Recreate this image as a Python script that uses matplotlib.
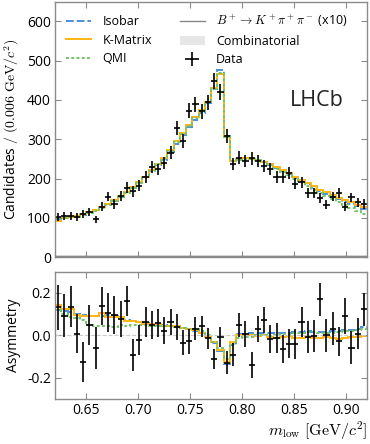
import numpy as np
import matplotlib
matplotlib.use("Agg")
import matplotlib.pyplot as plt
from matplotlib.patches import Patch
from matplotlib.lines import Line2D

plt.rcParams['font.family'] = ['Open Sans', 'DejaVu Sans']
plt.rcParams['mathtext.fontset'] = 'cm'

# binning: 50 bins of 0.006 GeV/c^2 from 0.62 to 0.92
x_lo, x_hi, n_bins = 0.62, 0.92, 50
edges = np.linspace(x_lo, x_hi, n_bins + 1)
centers = 0.5 * (edges[:-1] + edges[1:])

# --- top panel: candidates per bin ---
data_counts = [103, 104, 104, 103, 109, 115, 96, 128, 154, 135,
               156, 177, 167, 182, 204, 230, 223, 240, 266, 328,
               296, 373, 389, 371, 394, 448, 421, 309, 238, 253,
               244, 251, 244, 233, 225, 204, 204, 214, 187, 190,
               163, 164, 150, 133, 154, 163, 128, 152, 139, 135]

isobar = [95, 99, 102, 104, 108, 114, 120, 127, 135, 144,
          154, 165, 177, 190, 203, 219, 235, 248, 268, 289,
          310, 330, 350, 368, 392, 428, 476, 307, 245, 249,
          251, 250, 247, 242, 235, 228, 220, 211, 202, 193,
          185, 177, 169, 161, 154, 148, 141, 135, 129, 123]

kmatrix = [93, 100, 103, 104, 109, 115, 121, 128, 136, 145,
           155, 166, 179, 192, 205, 222, 238, 251, 272, 295,
           317, 337, 356, 375, 396, 430, 465, 305, 244, 249,
           251, 250, 247, 242, 236, 229, 221, 213, 205, 196,
           188, 180, 172, 165, 158, 151, 145, 139, 133, 127]

qmi = [97, 99, 101, 103, 107, 112, 118, 125, 133, 142,
       152, 163, 176, 189, 203, 220, 237, 250, 270, 292,
       314, 334, 353, 372, 394, 429, 468, 306, 244, 248,
       250, 250, 247, 241, 234, 225, 217, 208, 199, 190,
       181, 172, 163, 155, 147, 140, 133, 126, 118, 110]

combinatorial = [5] * n_bins
bkpipi_x10 = [3] * n_bins

# --- bottom panel: asymmetry ---
asym_data = [0.132, 0.093, 0.136, 0.008, -0.124, 0.050, -0.059, 0.140, 0.108, 0.096,
             0.078, 0.163, -0.093, -0.023, 0.062, 0.050, 0.059, 0.023, 0.062, 0.039,
             -0.034, -0.028, 0.031, 0.043, -0.013, -0.112, -0.008, -0.129, -0.090, 0.050,
             0.008, -0.140, 0.031, 0.074, -0.019, -0.012, -0.065, -0.038, -0.039, 0.065,
             -0.008, -0.003, 0.171, 0.000, 0.031, -0.028, 0.093, -0.058, 0.008, 0.124]

asym_err = [0.105, 0.100, 0.097, 0.093, 0.093, 0.093, 0.097, 0.090, 0.090, 0.090,
            0.085, 0.070, 0.074, 0.070, 0.070, 0.066, 0.067, 0.062, 0.062, 0.062,
            0.058, 0.058, 0.054, 0.050, 0.050, 0.047, 0.047, 0.054, 0.054, 0.058,
            0.062, 0.062, 0.062, 0.062, 0.066, 0.070, 0.066, 0.066, 0.070, 0.070,
            0.074, 0.074, 0.078, 0.078, 0.078, 0.070, 0.085, 0.078, 0.074, 0.078]

asym_isobar = [0.120, 0.115, 0.110, 0.100, 0.095, 0.090, 0.090, 0.090, 0.095, 0.090,
               0.080, 0.075, 0.070, 0.065, 0.060, 0.055, 0.050, 0.047, 0.045, 0.040,
               0.035, 0.030, 0.022, 0.012, -0.005, -0.035, -0.075, -0.135, -0.045, 0.005,
               0.008, 0.010, 0.012, 0.012, 0.012, 0.010, 0.012, 0.012, 0.015, 0.018,
               0.020, 0.018, 0.015, 0.018, 0.020, 0.022, 0.025, 0.025, 0.030, 0.040]

asym_kmatrix = [0.143, 0.124, 0.124, 0.096, 0.093, 0.093, 0.093, 0.108, 0.085, 0.085,
                0.085, 0.070, 0.070, 0.065, 0.054, 0.054, 0.054, 0.045, 0.043, 0.043,
                0.035, 0.031, 0.025, 0.010, -0.008, -0.031, -0.070, -0.124, -0.030, 0.003,
                0.000, 0.002, -0.002, 0.000, -0.005, -0.010, -0.005, -0.002, -0.010, -0.010,
                -0.005, -0.010, -0.012, -0.008, -0.012, -0.015, -0.010, -0.008, -0.005, -0.003]

asym_qmi = [0.120, 0.100, 0.085, 0.080, 0.075, 0.050, 0.045, 0.045, 0.045, 0.040,
            0.050, 0.045, 0.050, 0.050, 0.050, 0.045, 0.045, 0.045, 0.045, 0.040,
            0.035, 0.030, 0.030, 0.020, 0.000, -0.030, -0.060, -0.110, -0.040, -0.010,
            -0.005, -0.005, 0.000, 0.002, -0.002, 0.000, 0.005, 0.008, 0.010, 0.012,
            0.018, 0.015, 0.012, 0.010, 0.012, 0.015, 0.020, 0.022, 0.025, 0.028]

c_iso = '#4a8fdb'
c_km = '#ffb612'
c_qmi = '#74c26a'
c_spine = '#8a8a8a'


def step(ax, vals, **kw):
    v = np.asarray(vals, dtype=float)
    ax.stairs(v, edges, baseline=None, **kw)


def style_axes(ax):
    for s in ax.spines.values():
        s.set_color(c_spine)
        s.set_linewidth(1.0)
    ax.tick_params(direction='in', top=True, right=True, color=c_spine,
                   length=4, width=0.8, labelsize=10, pad=3)


fig = plt.figure(figsize=(3.7, 4.44), dpi=100)
ax1 = fig.add_axes([0.149, 0.421, 0.843, 0.575])
ax2 = fig.add_axes([0.149, 0.101, 0.843, 0.287])

# top
ax1.stairs(np.asarray(combinatorial, float), edges, fill=True, color='#e6e6e6', lw=0)
step(ax1, bkpipi_x10, color='#888888', lw=1.0)
step(ax1, isobar, color=c_iso, lw=1.4, ls=(0, (4, 1.5)))
step(ax1, kmatrix, color=c_km, lw=1.4)
step(ax1, qmi, color=c_qmi, lw=1.4, ls=(0, (1.5, 1.2)))
ax1.errorbar(centers, data_counts, yerr=np.sqrt(data_counts), xerr=0.003,
             fmt='none', ecolor='black', elinewidth=1.2, capsize=0)

ax1.set_xlim(x_lo, x_hi)
ax1.set_ylim(0, 650)
ax1.set_yticks([0, 100, 200, 300, 400, 500, 600])
ax1.set_xticks([0.65, 0.70, 0.75, 0.80, 0.85, 0.90])
ax1.tick_params(labelbottom=False)
style_axes(ax1)
ax1.set_ylabel(r'Candidates $/\ (0.006\ \mathrm{GeV}/c^2)$', fontsize=10)
ax1.yaxis.set_label_coords(-0.11, 0.5)
ax1.text(0.84, 0.615, 'LHCb', transform=ax1.transAxes, fontsize=15.5,
         ha='center', va='center', color='#222222')

handles = [
    Line2D([], [], color=c_iso, lw=1.4, ls=(0, (4, 1.5))),
    Line2D([], [], color=c_km, lw=1.4),
    Line2D([], [], color=c_qmi, lw=1.4, ls=(0, (1.5, 1.2))),
    Line2D([], [], color='#888888', lw=1.0),
    Patch(facecolor='#e6e6e6', edgecolor='none'),
    Line2D([], [], color='black', marker='+', markersize=10, mew=1.2, ls='none'),
]
labels = ['Isobar', 'K-Matrix', 'QMI',
          r'$B^+\to K^+\pi^+\pi^-$ (x10)', 'Combinatorial', 'Data']
ax1.legend(handles, labels, ncol=2, loc='upper left', frameon=False,
           fontsize=9, handlelength=2.0, columnspacing=2.2, handletextpad=0.9,
           labelspacing=0.42, bbox_to_anchor=(0.0, 1.0))

# bottom
ax2.axhline(0, color='#cccccc', lw=0.8, ls='--')
step(ax2, asym_isobar, color=c_iso, lw=1.4, ls=(0, (4, 1.5)))
step(ax2, asym_kmatrix, color=c_km, lw=1.4)
step(ax2, asym_qmi, color=c_qmi, lw=1.4, ls=(0, (1.5, 1.2)))
ax2.errorbar(centers, asym_data, yerr=asym_err, xerr=0.003,
             fmt='none', ecolor='black', elinewidth=1.2, capsize=0)
ax2.set_xlim(x_lo, x_hi)
ax2.set_ylim(-0.3, 0.3)
ax2.set_yticks([-0.2, 0.0, 0.2])
ax2.set_yticklabels(['-0.2', '0.0', '0.2'])
ax2.set_xticks([0.65, 0.70, 0.75, 0.80, 0.85, 0.90])
ax2.set_xticklabels(['0.65', '0.70', '0.75', '0.80', '0.85', '0.90'])
style_axes(ax2)
ax2.set_ylabel('Asymmetry', fontsize=10)
ax2.yaxis.set_label_coords(-0.11, 0.5)
ax2.set_xlabel(r'$m_\mathrm{low}\ [\mathrm{GeV}/c^2]$', fontsize=11.5, loc='right',
               labelpad=1)

fig.savefig('out.png', dpi=100)
